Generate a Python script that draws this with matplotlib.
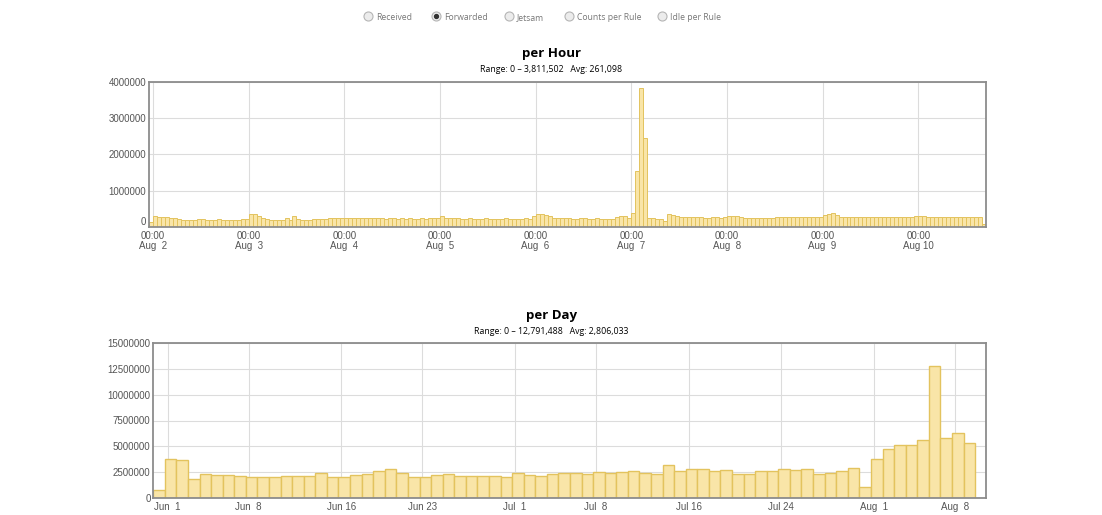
import numpy as np
import matplotlib
matplotlib.use('Agg')
import matplotlib.pyplot as plt
from matplotlib.lines import Line2D

#_______________________________________________________________________________
# DATA

# hourly counts (thousands), first bar is Aug 1 23:00, then one list per day
hour_first = [130]
hour_aug2 = [290, 280, 275, 270, 260, 240, 215, 200, 195, 195, 200, 215,
             210, 200, 205, 200, 210, 205, 200, 200, 205, 200, 210, 230]
hour_aug3 = [360, 345, 310, 250, 225, 200, 195, 195, 200, 250, 195, 310,
             210, 200, 200, 205, 210, 220, 225, 230, 235, 235, 235, 240]
hour_aug4 = [240, 240, 240, 235, 240, 235, 235, 240, 235, 235, 230, 235,
             235, 230, 235, 230, 235, 230, 230, 235, 230, 235, 240, 260]
hour_aug5 = [300, 245, 235, 235, 235, 230, 230, 235, 230, 230, 230, 235,
             230, 230, 230, 230, 235, 230, 230, 230, 230, 235, 230, 310]
hour_aug6 = [360, 365, 340, 300, 260, 240, 250, 245, 235, 230, 230, 235,
             235, 230, 230, 235, 230, 230, 230, 230, 270, 290, 300, 235]
hour_aug7 = [380, 1540, 3811.502, 2450, 260, 250, 230, 220, 160, 350, 320, 290,
             280, 275, 270, 270, 265, 265, 260, 260, 265, 265, 260, 270]
hour_aug8 = [300, 310, 300, 280, 260, 255, 250, 250, 255, 250, 250, 255,
             265, 265, 270, 270, 270, 275, 270, 270, 275, 270, 270, 280]
hour_aug9 = [330, 360, 380, 330, 285, 275, 270, 270, 275, 270, 270, 275,
             270, 275, 270, 270, 275, 270, 275, 270, 275, 280, 285, 310]
hour_aug10 = [315, 300, 285, 280, 280, 285, 280, 285, 280, 280, 285, 280,
              285, 280, 285, 280, 80]
hour_labels = ["Aug  2", "Aug  3", "Aug  4", "Aug  5", "Aug  6",
               "Aug  7", "Aug  8", "Aug  9", "Aug 10"]

# daily counts (millions), May 31 .. Aug 9
day_values = [0.78, 3.73, 3.70, 1.85, 2.34, 2.24, 2.20, 2.14, 2.00, 1.98,
              2.05, 2.10, 2.10, 2.14, 2.43, 2.05, 2.00, 2.17, 2.27, 2.63,
              2.79, 2.40, 2.05, 2.05, 2.17, 2.27, 2.14, 2.14, 2.14, 2.08,
              2.05, 2.40, 2.17, 2.10, 2.27, 2.43, 2.37, 2.27, 2.47, 2.43,
              2.50, 2.56, 2.40, 2.27, 3.21, 2.56, 2.82, 2.79, 2.60, 2.69,
              2.27, 2.27, 2.60, 2.63, 2.82, 2.66, 2.76, 2.30, 2.37, 2.56,
              2.86, 1.04, 3.73, 4.74, 5.10, 5.10, 5.65, 12.791488, 5.78, 6.27,
              5.32]
day_tick_days = [1, 8, 16, 23, 31, 38, 46, 54, 62, 69]   # days after May 31
day_tick_labels = ["Jun  1", "Jun  8", "Jun 16", "Jun 23", "Jul  1",
                   "Jul  8", "Jul 16", "Jul 24", "Aug  1", "Aug  8"]

radio_labels = ["Received", "Forwarded", "Jetsam", "Counts per Rule", "Idle per Rule"]
radio_selected = "Forwarded"

hour_values = np.array(hour_first + hour_aug2 + hour_aug3 + hour_aug4 + hour_aug5
                       + hour_aug6 + hour_aug7 + hour_aug8 + hour_aug9 + hour_aug10) * 1000
day_values = np.array(day_values) * 1e6

#_______________________________________________________________________________
# PLOT

W, H = 1102, 515
fig = plt.figure(figsize=(W / 100, H / 100), dpi=100)
fig.patch.set_facecolor('white')

bar_face = '#f9e5a8'
bar_edge = '#e3c35e'
grid_col = '#dcdcdc'
tick_font = dict(family='Liberation Sans', size=7, color='#555555')

def style_axes(ax):
    for s in ax.spines.values():
        s.set_color('#8c8c8c')
        s.set_linewidth(1.3)
    ax.grid(True, color=grid_col, linewidth=0.8)
    ax.set_axisbelow(True)
    ax.tick_params(length=0, pad=2)
    ax.tick_params(axis='x', pad=3)
    for lab in ax.get_xticklabels() + ax.get_yticklabels():
        lab.set_fontfamily(tick_font['family'])
        lab.set_fontsize(tick_font['size'])
        lab.set_color(tick_font['color'])

# radio buttons
radio_x = [368, 436, 509, 569, 662]
for x, lab in zip(radio_x, radio_labels):
    fig.add_artist(Line2D([x / W], [1 - 16 / H], transform=fig.transFigure, marker='o',
                          markersize=6.5, markerfacecolor='#ececec',
                          markeredgecolor='#b5b5b5', markeredgewidth=0.8))
    if lab == radio_selected:
        fig.add_artist(Line2D([x / W], [1 - 16 / H], transform=fig.transFigure, marker='o',
                              markersize=2.8, color='#333333'))
    fig.text((x + 8) / W, 1 - 20.5 / H, lab, fontsize=6.2, color='#777777',
             family='Open Sans', va='baseline', ha='left')

# per Hour
ax1 = fig.add_axes([149 / W, 1 - 227 / H, 837 / W, 145.5 / H])
hours = np.arange(-1, -1 + len(hour_values))
ax1.bar(hours, hour_values, width=1, align='edge', color=bar_face,
        edgecolor=bar_edge, linewidth=0.7)
ax1.set_xlim(-1, 209)
ax1.set_ylim(0, 4000000)
ax1.set_yticks([0, 1000000, 2000000, 3000000, 4000000])
ax1.set_yticklabels(['0', '1000000', '2000000', '3000000', '4000000'])
ax1.set_xticks(np.arange(len(hour_labels)) * 24)
ax1.set_xticklabels(['00:00\n' + l for l in hour_labels], linespacing=0.95)
style_axes(ax1)
ax1.get_yticklabels()[0].set_va('bottom')

fig.text(551 / W, 1 - 54 / H, 'per Hour', ha='center', va='center',
         fontsize=9.5, fontweight='bold', family='Open Sans')
fig.text(551 / W, 1 - 70 / H,
         'Range: 0 \u2013 {:,}   Avg: {:,}'.format(3811502, 261098),
         ha='center', va='center', fontsize=6.3, family='Open Sans')

# per Day
ax2 = fig.add_axes([153.3 / W, 1 - 497.7 / H, 832.7 / W, 154.4 / H])
days = np.arange(len(day_values))
ax2.bar(days - 0.24, day_values, width=1, align='edge', color=bar_face,
        edgecolor=bar_edge, linewidth=1.0)
ax2.set_xlim(-0.24, 71.7)
ax2.set_ylim(0, 15000000)
ax2.set_yticks([0, 2500000, 5000000, 7500000, 10000000, 12500000, 15000000])
ax2.set_yticklabels(['0', '2500000', '5000000', '7500000', '10000000', '12500000', '15000000'])
ax2.set_xticks(day_tick_days)
ax2.set_xticklabels(day_tick_labels)
style_axes(ax2)

fig.text(551 / W, 1 - 315 / H, 'per Day', ha='center', va='center',
         fontsize=9.5, fontweight='bold', family='Open Sans')
fig.text(551 / W, 1 - 331 / H,
         'Range: 0 \u2013 {:,}   Avg: {:,}'.format(12791488, 2806033),
         ha='center', va='center', fontsize=6.3, family='Open Sans')

fig.savefig('out.png', dpi=100)
